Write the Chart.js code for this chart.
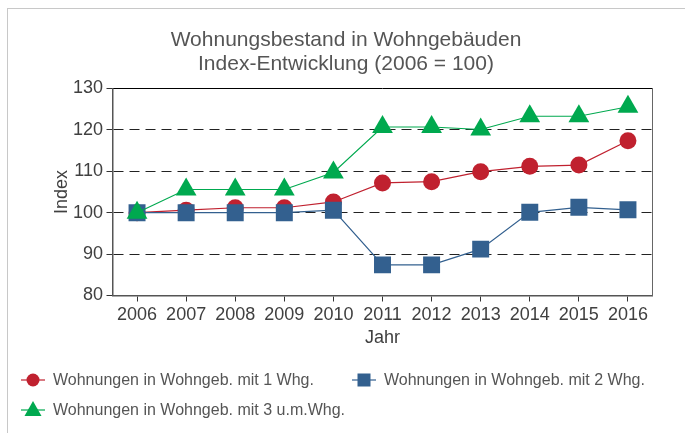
<!DOCTYPE html>
<html lang="de">
<head>
<meta charset="utf-8">
<script src="https://cdn.jsdelivr.net/npm/chart.js@4/dist/chart.umd.min.js"></script>
<style>
  body { margin: 0; background: #fff; font-family: "Liberation Sans", Arial, sans-serif; }
  #wrap { position: relative; width: 685px; height: 433px; overflow: hidden; }
  #rahmen { position: absolute; left: 7px; top: 8px; width: 700px; height: 450px;
            border-left: 1px solid #c8c8c8; border-top: 1px solid #c8c8c8; }
  canvas { position: absolute; left: 0; top: 0; }
  .leg { position: absolute; height: 20px; font-size: 16px; color: #555; line-height: 20px; white-space: nowrap; }
  .leg svg { position: absolute; left: 0; top: -2px; }
  .leg span { position: absolute; left: 32px; top: 0; }
</style>
</head>
<body>
<div id="wrap">
  <div id="rahmen"></div>
  <canvas id="chartCanvas" width="685" height="433"></canvas>
  <div id="legende"></div>
</div>
<script>
const jahre = ["2006", "2007", "2008", "2009", "2010", "2011", "2012", "2013", "2014", "2015", "2016"];
const werte1Whg = [100, 100.6, 101.2, 101.2, 102.6, 107.2, 107.5, 109.9, 111.2, 111.5, 117.4];
const werte2Whg = [100, 100, 100, 100, 100.6, 87.4, 87.4, 91.2, 100.1, 101.3, 100.7];
const werte3Whg = [100, 105.6, 105.6, 105.6, 109.7, 120.7, 120.7, 120.1, 123.3, 123.3, 125.6];
const serienNamen = [
  "Wohnungen in Wohngeb. mit 1 Whg.",
  "Wohnungen in Wohngeb. mit 2 Whg.",
  "Wohnungen in Wohngeb. mit 3 u.m.Whg."
];

const rot = "#c0212f";
const blau = "#33608f";
const gruen = "#00a94f";
const schrift = "'Liberation Sans', Arial, sans-serif";

// Legende als HTML, damit die Abstände wie im Original sind
function baueLegende() {
  const eintraege = [
    { text: serienNamen[0], farbe: rot, form: "kreis", x: 21, y: 370 },
    { text: serienNamen[1], farbe: blau, form: "quadrat", x: 352, y: 370 },
    { text: serienNamen[2], farbe: gruen, form: "dreieck", x: 21, y: 400 }
  ];
  const cont = document.getElementById("legende");
  eintraege.forEach(e => {
    let marker = "";
    if (e.form === "kreis") marker = `<circle cx="12" cy="12" r="6.5" fill="${e.farbe}"/>`;
    if (e.form === "quadrat") marker = `<rect x="5.5" y="5.5" width="13" height="13" fill="${e.farbe}"/>`;
    if (e.form === "dreieck") marker = `<polygon points="12,3 20.5,18 3.5,18" fill="${e.farbe}"/>`;
    cont.innerHTML += `
      <div class="leg" style="left:${e.x}px; top:${e.y}px">
        <svg width="24" height="24"><line x1="0" y1="12" x2="24" y2="12" stroke="${e.farbe}" stroke-width="1.2"/>${marker}</svg>
        <span>${e.text}</span>
      </div>`;
  });
}

function zeichneDiagramm() {
  const ctx = document.getElementById("chartCanvas").getContext("2d");
  window.meinDiagramm = new Chart(ctx, {
    type: "line",
    data: {
      labels: jahre,
      datasets: [
        { label: serienNamen[0], data: werte1Whg, borderColor: rot, backgroundColor: rot,
          pointStyle: "circle", pointRadius: 8.5, borderWidth: 1.2, pointBorderWidth: 0, order: 3 },
        { label: serienNamen[1], data: werte2Whg, borderColor: blau, backgroundColor: blau,
          pointStyle: "rect", pointRadius: 12, borderWidth: 1.2, pointBorderWidth: 0, order: 2 },
        { label: serienNamen[2], data: werte3Whg, borderColor: gruen, backgroundColor: gruen,
          pointStyle: "triangle", pointRadius: 12, borderWidth: 1.2, pointBorderWidth: 0, order: 1 }
      ]
    },
    options: {
      responsive: false,
      animation: false,
      layout: { padding: { left: 7, right: 0, top: 0, bottom: 77.5 } },
      plugins: {
        legend: { display: false },
        tooltip: { enabled: false },
        title: {
          display: true,
          text: ["Wohnungsbestand in Wohngebäuden", "Index-Entwicklung (2006 = 100)"],
          color: "#555",
          font: { family: schrift, size: 21, weight: "normal", lineHeight: 24 / 21 },
          padding: { top: 28, bottom: 12.5 }
        }
      },
      scales: {
        x: {
          offset: true,
          grid: { display: true, drawOnChartArea: false, tickLength: 6, tickColor: "#333", color: "#333" },
          border: { color: "#555", width: 1.5 },
          ticks: { color: "#404040", padding: 3, maxRotation: 0, font: { family: schrift, size: 18 } },
          title: { display: true, text: "Jahr", color: "#404040", padding: { top: 0, bottom: 6.7 },
                   font: { family: schrift, size: 18 } },
          afterFit: s => { s.height = 60; }
        },
        xOben: {
          position: "top",
          offset: true,
          grid: { display: false },
          ticks: { display: false },
          border: { color: "#000", width: 1 },
          afterFit: s => { s.height = 0; }
        },
        y: {
          min: 80,
          max: 130,
          ticks: {
            stepSize: 5,
            color: "#404040",
            padding: 3.5,
            font: { family: schrift, size: 18 },
            callback: v => (v % 10 === 0 ? v : "")
          },
          grid: {
            tickLength: 6,
            tickColor: "#333",
            color: c => {
              const v = c.tick ? c.tick.value : 0;
              return v > 80 && v < 130 && v % 10 === 0 ? "#222" : "rgba(0,0,0,0)";
            }
          },
          border: { color: "#555", width: 1.5, dash: [10, 6] },
          title: { display: true, text: "Index", color: "#404040", padding: { top: 44, bottom: 0 },
                   font: { family: schrift, size: 18 } },
          afterFit: s => { s.width = 105.5; }
        },
        yRechts: {
          position: "right",
          min: 80,
          max: 130,
          grid: { display: false },
          ticks: { display: false },
          border: { color: "#666", width: 1 },
          afterFit: s => { s.width = 32.5; }
        }
      }
    }
  });
}

window.onload = () => {
  baueLegende();
  zeichneDiagramm();
};
</script>
</body>
</html>
